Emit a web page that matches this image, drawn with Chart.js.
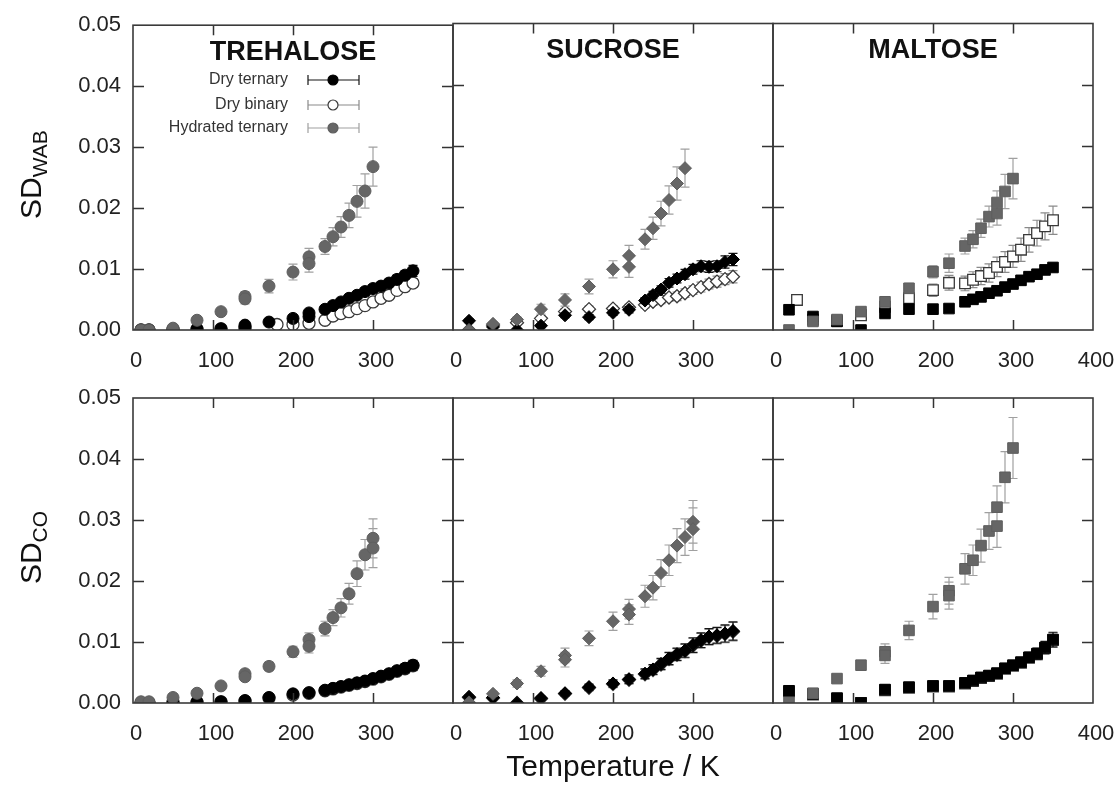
<!DOCTYPE html>
<html>
<head>
<meta charset="utf-8">
<script src="https://cdn.jsdelivr.net/npm/chart.js@4/dist/chart.umd.min.js"></script>
<style>
  html, body { margin: 0; padding: 0; background: #fff; }
  #wrap { position: relative; width: 1116px; height: 787px; overflow: hidden; background: #fff; }
  #wrap canvas { position: absolute; left: 0; top: 0; }
</style>
</head>
<body>
<div id="wrap">
  <canvas id="p0" width="1116" height="787"></canvas>
  <canvas id="p1" width="1116" height="787"></canvas>
  <canvas id="p2" width="1116" height="787"></canvas>
  <canvas id="p3" width="1116" height="787"></canvas>
  <canvas id="p4" width="1116" height="787"></canvas>
  <canvas id="p5" width="1116" height="787"></canvas>
</div>
<script>
// ---------------- labels ----------------
const PANEL_TITLES = ['TREHALOSE', 'SUCROSE', 'MALTOSE'];
const ROW_TITLES = [['SD', 'WAB'], ['SD', 'CO']];
const SERIES_NAMES = ['Dry ternary', 'Dry binary', 'Hydrated ternary'];
const X_TICKS = [0, 100, 200, 300, 400];
const Y_TICKS = [0, 0.01, 0.02, 0.03, 0.04, 0.05];
const X_TITLE = 'Temperature / K';

// ---------------- data: SD_WAB, trehalose ----------------
const treWab_dt_T = [10,20,50,80,110,140,140,170,200,220,220,240,250,260,270,280,290,300,310,320,330,340,350];
const treWab_dt_V = [0,0,0.0001,0.0002,0.0002,0.0005,0.0008,0.0013,0.0019,0.0022,0.0028,0.0034,0.004,0.0046,0.0052,0.0057,0.0063,0.0068,0.0072,0.0077,0.0083,0.009,0.0097];
const treWab_dt_E = [0.0001,0.0001,0.0001,0.0002,0.0002,0.0003,0.0003,0.0003,0.0004,0.0004,0.0004,0.0004,0.0004,0.0005,0.0005,0.0005,0.0005,0.0006,0.0006,0.0006,0.0007,0.0007,0.0009];
const treWab_db_T = [10,20,50,80,110,140,180,200,220,240,250,260,270,280,290,300,310,320,330,340,350];
const treWab_db_V = [0,0,0.0001,0.0001,0.0002,0.0003,0.0009,0.0009,0.0011,0.0016,0.0023,0.0027,0.003,0.0035,0.004,0.0046,0.0052,0.0057,0.0065,0.0071,0.0077];
const treWab_db_E = [0.0001,0.0001,0.0001,0.0001,0.0002,0.0002,0.0003,0.0003,0.0003,0.0003,0.0004,0.0004,0.0004,0.0005,0.0005,0.0005,0.0006,0.0006,0.0006,0.0007,0.0007];
const treWab_hy_T = [10,20,50,80,110,140,140,170,200,220,220,240,250,260,270,280,290,300];
const treWab_hy_V = [0,0,0.0003,0.0016,0.003,0.0055,0.0051,0.0072,0.0095,0.012,0.0109,0.0137,0.0153,0.0169,0.0188,0.0211,0.0228,0.0268];
const treWab_hy_E = [0.0001,0.0001,0.0002,0.0003,0.0003,0.0008,0.0008,0.0011,0.0013,0.0014,0.0014,0.0013,0.0015,0.0017,0.002,0.0026,0.0028,0.0032];

// ---------------- data: SD_WAB, sucrose ----------------
const sucWab_dt_T = [20,50,80,110,140,170,200,220,240,250,260,270,280,290,300,310,320,330,340,350];
const sucWab_dt_V = [0.0015,0.0005,0,0.0007,0.0024,0.0021,0.0028,0.0033,0.0048,0.0057,0.0066,0.0077,0.0084,0.0091,0.0099,0.0104,0.0103,0.0104,0.0111,0.0115];
const sucWab_dt_E = [0.0003,0.0002,0.0002,0.0003,0.0004,0.0004,0.0004,0.0005,0.0005,0.0006,0.0006,0.0007,0.0007,0.0008,0.0008,0.0009,0.0009,0.0009,0.001,0.001];
const sucWab_db_T = [20,50,80,110,140,170,200,220,240,250,260,270,280,290,300,310,320,330,340,350];
const sucWab_db_V = [0,0.0008,0.0012,0.0019,0.003,0.0034,0.0035,0.0037,0.0041,0.0046,0.0049,0.0053,0.0055,0.006,0.0065,0.007,0.0075,0.0079,0.0083,0.0087];
const sucWab_db_E = [0.0002,0.0003,0.0003,0.0004,0.0005,0.0005,0.0005,0.0005,0.0005,0.0006,0.0006,0.0006,0.0007,0.0007,0.0007,0.0008,0.0008,0.0009,0.0009,0.001];
const sucWab_hy_T = [20,50,80,110,140,170,200,220,220,240,250,260,270,280,290];
const sucWab_hy_V = [0,0.001,0.0017,0.0034,0.0049,0.0071,0.0099,0.0121,0.0103,0.0148,0.0166,0.019,0.0212,0.0239,0.0264];
const sucWab_hy_E = [0.0002,0.0003,0.0004,0.0008,0.001,0.0012,0.0014,0.0017,0.0017,0.0016,0.0018,0.002,0.0023,0.0027,0.0031];

// ---------------- data: SD_WAB, maltose ----------------
const malWab_dt_T = [20,50,80,110,140,170,200,220,240,250,260,270,280,290,300,310,320,330,340,350];
const malWab_dt_V = [0.0033,0.0022,0.0014,0,0.0027,0.0034,0.0034,0.0035,0.0046,0.005,0.0054,0.006,0.0064,0.007,0.0075,0.0081,0.0087,0.0091,0.0098,0.0102];
const malWab_dt_E = [0.0005,0.0004,0.0004,0.0003,0.0004,0.0004,0.0004,0.0004,0.0004,0.0004,0.0005,0.0005,0.0005,0.0005,0.0006,0.0006,0.0006,0.0007,0.0007,0.0007];
const malWab_db_T = [30,50,80,110,140,170,200,220,240,250,260,270,280,290,300,310,320,330,340,350];
const malWab_db_V = [0.0049,0.0017,0.0015,0.0024,0.0038,0.0052,0.0065,0.0077,0.0076,0.0082,0.0088,0.0093,0.0103,0.0111,0.012,0.0131,0.0147,0.0158,0.0169,0.0179];
const malWab_db_E = [0.0006,0.0004,0.0004,0.0005,0.0007,0.0009,0.001,0.0012,0.0012,0.0013,0.0014,0.0015,0.0016,0.0017,0.0018,0.0019,0.002,0.0021,0.0022,0.0023];
const malWab_hy_T = [20,50,80,110,140,170,200,220,240,250,260,270,280,280,290,300];
const malWab_hy_V = [0,0.0014,0.0017,0.003,0.0046,0.0068,0.0095,0.0109,0.0137,0.0148,0.0166,0.0185,0.019,0.0208,0.0226,0.0247];
const malWab_hy_E = [0.0002,0.0003,0.0003,0.0004,0.0006,0.0008,0.001,0.0015,0.0013,0.0014,0.0015,0.0017,0.0019,0.0019,0.0028,0.0033];

// ---------------- data: SD_CO, trehalose ----------------
const treCo_dt_T = [10,20,50,80,110,140,170,200,220,240,250,260,270,280,290,300,310,320,330,340,350];
const treCo_dt_V = [0,0,0.0001,0.0002,0.0002,0.0004,0.0009,0.0015,0.0017,0.0021,0.0024,0.0027,0.003,0.0033,0.0036,0.004,0.0044,0.0048,0.0053,0.0057,0.0062];
const treCo_dt_E = [0.0001,0.0001,0.0001,0.0001,0.0002,0.0002,0.0003,0.0003,0.0003,0.0003,0.0004,0.0004,0.0004,0.0004,0.0005,0.0005,0.0005,0.0006,0.0006,0.0007,0.0008];
const treCo_db_T = [10,20,50,80,110,140,170,200,220,240,250,260,270,280,290,300,310,320,330,340,350];
const treCo_db_V = [0,0,0.0001,0.0001,0.0002,0.0003,0.0008,0.0013,0.0016,0.002,0.0023,0.0026,0.0029,0.0032,0.0035,0.0039,0.0043,0.0047,0.0052,0.0056,0.0061];
const treCo_db_E = [0.0001,0.0001,0.0001,0.0001,0.0002,0.0002,0.0003,0.0003,0.0003,0.0003,0.0004,0.0004,0.0004,0.0004,0.0005,0.0005,0.0005,0.0006,0.0006,0.0007,0.0008];
const treCo_hy_T = [10,20,50,80,110,140,140,170,200,220,220,240,250,260,270,280,290,300,300];
const treCo_hy_V = [0.0002,0.0002,0.0009,0.0016,0.0028,0.0048,0.0043,0.006,0.0084,0.0104,0.0093,0.0122,0.014,0.0156,0.0179,0.0212,0.0243,0.027,0.0254];
const treCo_hy_E = [0.0001,0.0001,0.0002,0.0003,0.0004,0.0006,0.0006,0.0007,0.0009,0.0011,0.0011,0.0012,0.0013,0.0015,0.0017,0.0021,0.0025,0.0032,0.0032];

// ---------------- data: SD_CO, sucrose ----------------
const sucCo_dt_T = [20,50,80,110,140,170,200,220,240,250,260,270,280,290,300,310,320,330,340,350];
const sucCo_dt_V = [0.001,0.0009,0,0.0008,0.0016,0.0026,0.0032,0.0039,0.0048,0.0055,0.0064,0.0073,0.008,0.0086,0.0095,0.0103,0.0109,0.0111,0.0114,0.0118];
const sucCo_dt_E = [0.0003,0.0003,0.0002,0.0003,0.0004,0.0005,0.0006,0.0007,0.0008,0.0008,0.0009,0.001,0.001,0.0011,0.0012,0.0012,0.0013,0.0013,0.0014,0.0015];
const sucCo_db_T = [20,50,80,110,140,170,200,220,240,250,260,270,280,290,300,310,320,330,340,350];
const sucCo_db_V = [0.0009,0.0008,0,0.0007,0.0015,0.0025,0.0031,0.0038,0.0047,0.0054,0.0063,0.0072,0.0079,0.0085,0.0094,0.0102,0.0108,0.011,0.0113,0.0117];
const sucCo_db_E = [0.0003,0.0003,0.0002,0.0003,0.0004,0.0005,0.0006,0.0007,0.0008,0.0008,0.0009,0.001,0.001,0.0011,0.0012,0.0012,0.0013,0.0013,0.0014,0.0015];
const sucCo_hy_T = [20,50,80,110,140,140,170,200,220,220,240,250,260,270,280,290,300,300];
const sucCo_hy_V = [0.0001,0.0015,0.0032,0.0052,0.0078,0.0071,0.0106,0.0134,0.0154,0.0145,0.0175,0.0189,0.0213,0.0234,0.0258,0.0272,0.0297,0.0285];
const sucCo_hy_E = [0.0002,0.0004,0.0006,0.0008,0.0012,0.0012,0.0012,0.0015,0.0016,0.0016,0.0018,0.002,0.0022,0.0025,0.0028,0.003,0.0035,0.0035];

// ---------------- data: SD_CO, maltose ----------------
const malCo_dt_T = [20,50,80,110,140,170,200,220,240,250,260,270,280,290,300,310,320,330,340,350];
const malCo_dt_V = [0.002,0.0015,0.0008,0,0.0022,0.0026,0.0028,0.0028,0.0033,0.0037,0.0042,0.0045,0.0049,0.0057,0.0062,0.0067,0.0075,0.0081,0.0091,0.0104];
const malCo_dt_E = [0.0003,0.0003,0.0003,0.0003,0.0004,0.0004,0.0004,0.0004,0.0004,0.0005,0.0005,0.0005,0.0006,0.0006,0.0007,0.0007,0.0008,0.0009,0.001,0.0012];
const malCo_db_T = [20,50,80,110,140,170,200,220,240,250,260,270,280,290,300,310,320,330,340,350];
const malCo_db_V = [0.0019,0.0014,0.0007,0,0.0021,0.0025,0.0027,0.0027,0.0032,0.0036,0.0041,0.0044,0.0048,0.0056,0.0061,0.0066,0.0074,0.008,0.009,0.0103];
const malCo_db_E = [0.0003,0.0003,0.0003,0.0003,0.0004,0.0004,0.0004,0.0004,0.0005,0.0005,0.0006,0.0006,0.0006,0.0007,0.0007,0.0008,0.0008,0.0009,0.001,0.0012];
const malCo_hy_T = [20,50,80,110,140,140,170,200,220,220,240,250,260,270,280,280,290,300];
const malCo_hy_V = [0.0001,0.0016,0.004,0.0062,0.0084,0.0078,0.0119,0.0158,0.0184,0.0176,0.022,0.0234,0.0258,0.0282,0.0321,0.029,0.037,0.0418];
const malCo_hy_E = [0.0002,0.0003,0.0005,0.0007,0.0013,0.0013,0.0015,0.002,0.0022,0.0022,0.0025,0.0025,0.0027,0.003,0.0035,0.0035,0.0042,0.005];

// panel table: [row][col] -> [dry ternary, dry binary, hydrated ternary]
const PANELS = [
  [
    [[treWab_dt_T, treWab_dt_V, treWab_dt_E], [treWab_db_T, treWab_db_V, treWab_db_E], [treWab_hy_T, treWab_hy_V, treWab_hy_E]],
    [[sucWab_dt_T, sucWab_dt_V, sucWab_dt_E], [sucWab_db_T, sucWab_db_V, sucWab_db_E], [sucWab_hy_T, sucWab_hy_V, sucWab_hy_E]],
    [[malWab_dt_T, malWab_dt_V, malWab_dt_E], [malWab_db_T, malWab_db_V, malWab_db_E], [malWab_hy_T, malWab_hy_V, malWab_hy_E]]
  ],
  [
    [[treCo_dt_T, treCo_dt_V, treCo_dt_E], [treCo_db_T, treCo_db_V, treCo_db_E], [treCo_hy_T, treCo_hy_V, treCo_hy_E]],
    [[sucCo_dt_T, sucCo_dt_V, sucCo_dt_E], [sucCo_db_T, sucCo_db_V, sucCo_db_E], [sucCo_hy_T, sucCo_hy_V, sucCo_hy_E]],
    [[malCo_dt_T, malCo_dt_V, malCo_dt_E], [malCo_db_T, malCo_db_V, malCo_db_E], [malCo_hy_T, malCo_hy_V, malCo_hy_E]]
  ]
];

// ---------------- styling / layout ----------------
const FONT = '"Liberation Sans", Arial, Helvetica, sans-serif';
const W = 1116, H = 787;
const AREA_LEFT = 133, AREA_W = 320;
const AREA_TOP = [23.5, 398], AREA_BOTTOM = [330, 703];
const XAXIS_H = 40;
// order: higher drawn first (underneath); hydrated on top, dry ternary over dry binary
const SERIES_STYLE = [
  { fill: '#000000', stroke: '#000000', err: '#151515', order: 2 },
  { fill: '#ffffff', stroke: '#3a3a3a', err: '#8a8a8a', order: 3 },
  { fill: '#666666', stroke: '#5e5e5e', err: '#a0a0a0', order: 1 }
];
const SHAPES = [
  { style: 'circle', r: 6 },
  { style: 'rectRot', r: 6.5 },
  { style: 'rect', r: 7.5 }
];

function panelPlugin(row, col) {
  return {
    id: 'panelDecor' + row + col,
    beforeDatasetDraw(chart, args) {
      const ds = chart.data.datasets[args.index];
      if (!ds.errors) return;
      const xs = chart.scales.x, ys = chart.scales.y, ca = chart.chartArea;
      const ctx = chart.ctx;
      ctx.save();
      ctx.beginPath();
      ctx.rect(ca.left, ca.top, ca.right - ca.left, ca.bottom - ca.top);
      ctx.clip();
      ctx.strokeStyle = ds.errColor;
      ctx.lineWidth = 1.2;
      ctx.beginPath();
      ds.data.forEach((p, i) => {
        const e = ds.errors[i];
        const px = xs.getPixelForValue(p.x);
        const y1 = ys.getPixelForValue(p.y - e);
        const y2 = ys.getPixelForValue(p.y + e);
        ctx.moveTo(px, y1); ctx.lineTo(px, y2);
        ctx.moveTo(px - 4.5, y1); ctx.lineTo(px + 4.5, y1);
        ctx.moveTo(px - 4.5, y2); ctx.lineTo(px + 4.5, y2);
      });
      ctx.stroke();
      ctx.restore();
    },
    afterDatasetsDraw(chart) {
      const ctx = chart.ctx, ca = chart.chartArea;
      const xs = chart.scales.x, ys = chart.scales.y;
      ctx.save();
      // inward ticks
      ctx.strokeStyle = '#333';
      ctx.lineWidth = 1.5;
      ctx.beginPath();
      X_TICKS.forEach(v => {
        if (v <= xs.min || v >= xs.max) return;
        const px = Math.round(xs.getPixelForValue(v)) + 0.5;
        ctx.moveTo(px, ca.bottom); ctx.lineTo(px, ca.bottom - 10);
        ctx.moveTo(px, ca.top); ctx.lineTo(px, ca.top + 10);
      });
      Y_TICKS.forEach(v => {
        if (v <= ys.min || v >= ys.max) return;
        const py = Math.round(ys.getPixelForValue(v)) + 0.5;
        ctx.moveTo(ca.left, py); ctx.lineTo(ca.left + 11, py);
        ctx.moveTo(ca.right, py); ctx.lineTo(ca.right - 11, py);
      });
      ctx.stroke();
      // frame
      ctx.strokeStyle = '#3a3a3a';
      ctx.lineWidth = 1.6;
      ctx.strokeRect(ca.left, ca.top, ca.right - ca.left, ca.bottom - ca.top);

      ctx.fillStyle = '#111';
      // panel title (top row only)
      if (row === 0) {
        ctx.font = 'bold 27px ' + FONT;
        ctx.textAlign = 'center';
        ctx.textBaseline = 'middle';
        ctx.fillText(PANEL_TITLES[col], (ca.left + ca.right) / 2, ca.top + 27);
      }
      // legend (first panel)
      if (row === 0 && col === 0) {
        const rowsY = [80, 105, 128];
        const textRight = 288, barL = 308, barR = 359, mx = 333;
        ctx.font = '16px ' + FONT;
        ctx.textAlign = 'right';
        ctx.textBaseline = 'middle';
        SERIES_NAMES.forEach((name, i) => {
          const st = SERIES_STYLE[i];
          const y = rowsY[i];
          ctx.fillStyle = '#333';
          ctx.fillText(name, textRight, y);
          ctx.strokeStyle = st.err;
          ctx.lineWidth = 1.2;
          ctx.beginPath();
          ctx.moveTo(barL, y); ctx.lineTo(barR, y);
          ctx.moveTo(barL, y - 5); ctx.lineTo(barL, y + 5);
          ctx.moveTo(barR, y - 5); ctx.lineTo(barR, y + 5);
          ctx.stroke();
          ctx.beginPath();
          ctx.arc(mx, y, 5, 0, Math.PI * 2);
          ctx.fillStyle = st.fill;
          ctx.fill();
          ctx.strokeStyle = st.stroke;
          ctx.lineWidth = 1.2;
          ctx.stroke();
        });
      }
      // y-axis title (first column)
      if (col === 0) {
        const [main, sub] = ROW_TITLES[row];
        const cy = (ca.top + ca.bottom) / 2 - 3;
        ctx.translate(30, cy);
        ctx.rotate(-Math.PI / 2);
        ctx.textAlign = 'left';
        ctx.textBaseline = 'alphabetic';
        ctx.font = '30px ' + FONT;
        const w1 = ctx.measureText(main).width;
        ctx.font = '21px ' + FONT;
        const w2 = ctx.measureText(sub).width;
        const x0 = -(w1 + w2) / 2;
        ctx.fillStyle = '#111';
        ctx.font = '30px ' + FONT;
        ctx.fillText(main, x0, 11);
        ctx.font = '21px ' + FONT;
        ctx.fillText(sub, x0 + w1, 17);
        ctx.setTransform(1, 0, 0, 1, 0, 0);
      }
      // x-axis title (bottom middle)
      if (row === 1 && col === 1) {
        ctx.font = '30px ' + FONT;
        ctx.textAlign = 'center';
        ctx.textBaseline = 'middle';
        ctx.fillStyle = '#111';
        ctx.fillText(X_TITLE, (ca.left + ca.right) / 2, 768);
      }
      ctx.restore();
    }
  };
}

function makeChart(row, col) {
  const left = AREA_LEFT + AREA_W * col;
  const right = left + AREA_W;
  const top = AREA_TOP[row], bottom = AREA_BOTTOM[row];
  const shape = SHAPES[col];
  const datasets = PANELS[row][col].map((s, i) => {
    const [T, V, E] = s;
    const st = SERIES_STYLE[i];
    return {
      label: SERIES_NAMES[i],
      data: T.map((t, k) => ({ x: t, y: V[k] })),
      errors: E,
      errColor: st.err,
      pointStyle: shape.style,
      pointRadius: shape.r,
      backgroundColor: st.fill,
      borderColor: st.stroke,
      pointBackgroundColor: st.fill,
      pointBorderColor: st.stroke,
      pointBorderWidth: i === 1 ? 1.3 : 1,
      showLine: false,
      order: st.order
    };
  });
  const showY = col === 0;
  return new Chart(document.getElementById('p' + (row * 3 + col)), {
    type: 'scatter',
    data: { datasets },
    options: {
      responsive: false,
      animation: false,
      events: [],
      layout: {
        padding: {
          left: showY ? 0 : left,
          right: W - right,
          top: top,
          bottom: H - bottom - XAXIS_H
        }
      },
      plugins: { legend: { display: false }, tooltip: { enabled: false } },
      scales: {
        x: {
          type: 'linear',
          min: 0, max: 400,
          afterBuildTicks: s => { s.ticks = X_TICKS.map(v => ({ value: v })); },
          afterFit: s => { s.height = XAXIS_H; },
          grid: { display: false, drawTicks: true, tickLength: 16, color: 'rgba(0,0,0,0)' },
          border: { display: false },
          ticks: {
            autoSkip: false, maxRotation: 0, padding: 2, labelOffset: 3,
            color: '#222', font: { family: FONT, size: 22 },
            callback: v => (v === 400 && col < 2) ? '' : String(v)
          }
        },
        y: {
          type: 'linear',
          display: showY,
          min: 0, max: 0.05,
          afterBuildTicks: s => { s.ticks = Y_TICKS.map(v => ({ value: v })); },
          afterFit: s => { if (showY) s.width = AREA_LEFT; },
          grid: { display: false, drawTicks: false },
          border: { display: false },
          ticks: {
            padding: 12,
            color: '#222', font: { family: FONT, size: 22 },
            callback: v => Number(v).toFixed(2)
          }
        }
      }
    },
    plugins: [panelPlugin(row, col)]
  });
}

for (let r = 0; r < 2; r++) for (let c = 0; c < 3; c++) makeChart(r, c);
</script>
</body>
</html>
